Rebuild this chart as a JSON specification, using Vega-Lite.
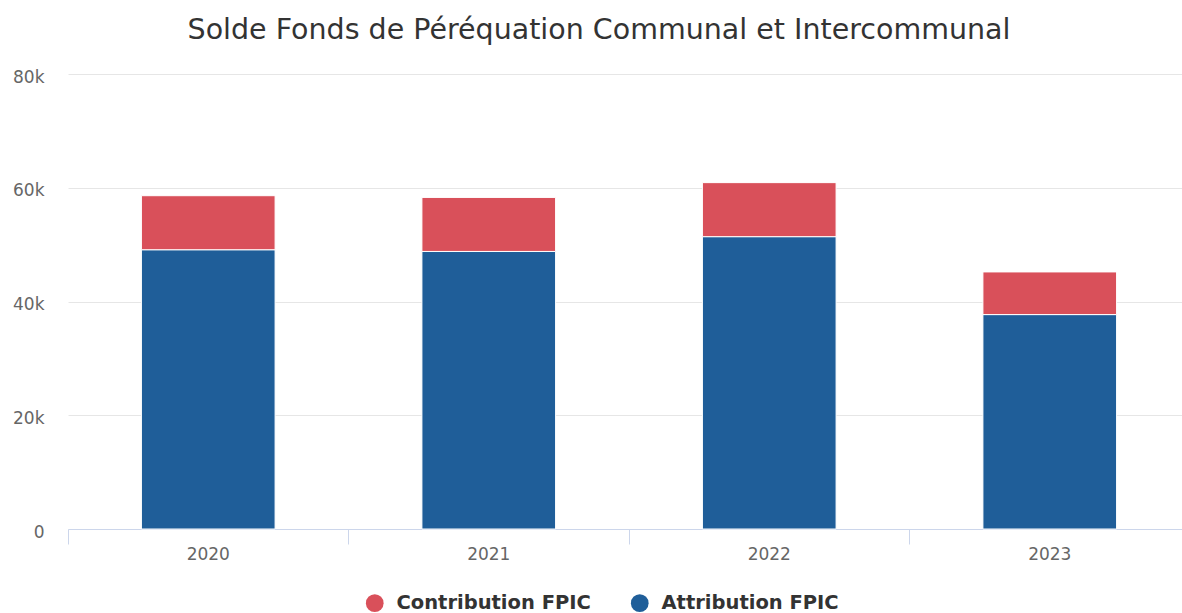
{
  "$schema": "https://vega.github.io/schema/vega-lite/v6.json",
  "width": 1114,
  "height": 455,
  "autosize": {"type": "none"},
  "padding": {"left": 68, "top": 74, "right": 0, "bottom": 84},
  "background": "#ffffff",
  "title": {
    "text": "Solde Fonds de Péréquation Communal et Intercommunal",
    "font": "DejaVu Sans",
    "fontSize": 28.5,
    "fontWeight": "normal",
    "color": "#333333",
    "anchor": "middle",
    "frame": "group",
    "dx": -26,
    "offset": 1,
    "baseline": "alphabetic"
  },
  "config": {"view": {"stroke": null}, "font": "DejaVu Sans"},
  "data": {
    "values": [
      {"annee": "2020", "serie": "Attribution FPIC", "valeur": 49100},
      {"annee": "2020", "serie": "Contribution FPIC", "valeur": 9500},
      {"annee": "2021", "serie": "Attribution FPIC", "valeur": 48800},
      {"annee": "2021", "serie": "Contribution FPIC", "valeur": 9500},
      {"annee": "2022", "serie": "Attribution FPIC", "valeur": 51400},
      {"annee": "2022", "serie": "Contribution FPIC", "valeur": 9500},
      {"annee": "2023", "serie": "Attribution FPIC", "valeur": 37700},
      {"annee": "2023", "serie": "Contribution FPIC", "valeur": 7500}
    ]
  },
  "mark": {"type": "bar", "width": {"band": 0.4765}, "stroke": "#ffffff", "strokeWidth": 1},
  "encoding": {
    "x": {
      "field": "annee",
      "type": "nominal",
      "scale": {"paddingInner": 0, "paddingOuter": 0, "range": [0, 1122]},
      "axis": {
        "title": null,
        "labelAngle": 0,
        "bandPosition": 0,
        "tickSize": 15,
        "tickColor": "#ccd6eb",
        "domainColor": "#ccd6eb",
        "labelFont": "DejaVu Sans",
        "labelFontSize": 17,
        "labelColor": "#666666",
        "labelPadding": 2,
        "grid": false
      }
    },
    "y": {
      "field": "valeur",
      "type": "quantitative",
      "stack": "zero",
      "scale": {"domain": [0, 80000], "nice": false},
      "axis": {
        "title": null,
        "values": [0, 20000, 40000, 60000, 80000],
        "labelExpr": "datum.value == 0 ? '0' : format(datum.value / 1000, 'd') + 'k'",
        "domain": false,
        "ticks": false,
        "tickSize": 0,
        "labelPadding": 24,
        "labelFont": "DejaVu Sans",
        "labelFontSize": 17,
        "labelColor": "#666666",
        "labelOffset": 3,
        "gridColor": "#e6e6e6",
        "gridWidth": 1
      }
    },
    "color": {
      "field": "serie",
      "type": "nominal",
      "scale": {"domain": ["Contribution FPIC", "Attribution FPIC"], "range": ["#d9505a", "#1f5e99"]},
      "legend": {
        "title": null,
        "orient": "none",
        "legendX": 297,
        "legendY": 519,
        "direction": "horizontal",
        "symbolType": "circle",
        "symbolSize": 314,
        "symbolStrokeWidth": 0,
        "symbolOpacity": 1,
        "labelFont": "DejaVu Sans",
        "labelFontSize": 19.5,
        "labelFontWeight": "bold",
        "labelColor": "#333333",
        "labelOffset": 12,
        "columnPadding": 39,
        "labelLimit": 0
      }
    },
    "order": {"field": "serie", "sort": "ascending"}
  }
}
